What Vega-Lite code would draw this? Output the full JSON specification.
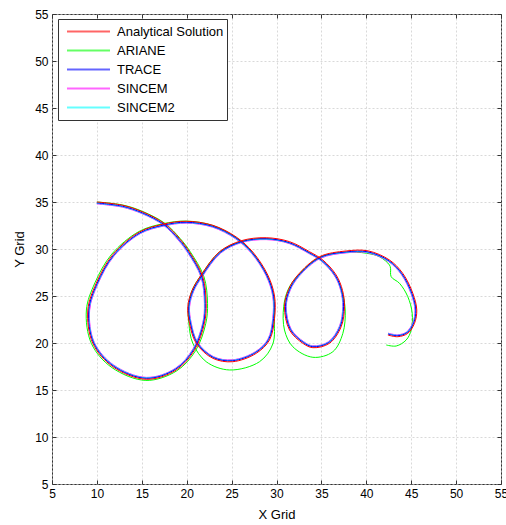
{
"$schema":"https://vega.github.io/schema/vega-lite/v6.json",
"width":449,"height":470,"autosize":"none",
"padding":{"left":52,"top":14,"right":5,"bottom":41},
"background":"white",
"config":{
 "view":{"stroke":"#333333","strokeWidth":1},
 "axis":{"domain":false,"grid":true,"gridColor":"#c8c8c8","gridDash":[2,2],"gridWidth":0.7,"tickColor":"#333333","tickSize":-4,"labelPadding":8,"labelFont":"Liberation Sans","labelFontSize":12,"labelColor":"#000000","titleFont":"Liberation Sans","titleFontSize":13,"titleFontWeight":"normal","titleColor":"#000000","labelFlush":false,"labelOverlap":false,"values":[5,10,15,20,25,30,35,40,45,50,55]},
 "legend":{"labelFont":"Liberation Sans","labelFontSize":13,"labelColor":"#000000"}
},
"datasets":{"d":[
{"s":"ARIANE","i":0,"x":10.0,"y":35.0},{"s":"ARIANE","i":1,"x":12.88,"y":34.68},{"s":"ARIANE","i":2,"x":15.13,"y":33.98},{"s":"ARIANE","i":3,"x":17.57,"y":32.73},{"s":"ARIANE","i":4,"x":19.26,"y":31.13},{"s":"ARIANE","i":5,"x":20.4,"y":29.7},{"s":"ARIANE","i":6,"x":21.92,"y":27.05},{"s":"ARIANE","i":7,"x":22.32,"y":24.22},{"s":"ARIANE","i":8,"x":22.13,"y":22.1},{"s":"ARIANE","i":9,"x":21.0,"y":19.2},{"s":"ARIANE","i":10,"x":18.88,"y":17.03},{"s":"ARIANE","i":11,"x":15.45,"y":16.02},{"s":"ARIANE","i":12,"x":11.68,"y":17.38},{"s":"ARIANE","i":13,"x":9.4,"y":19.92},{"s":"ARIANE","i":14,"x":8.83,"y":23.51},{"s":"ARIANE","i":15,"x":9.78,"y":26.4},{"s":"ARIANE","i":16,"x":11.65,"y":29.45},{"s":"ARIANE","i":17,"x":14.68,"y":31.86},{"s":"ARIANE","i":18,"x":17.32,"y":32.68},{"s":"ARIANE","i":19,"x":19.94,"y":32.97},{"s":"ARIANE","i":20,"x":22.91,"y":32.5},{"s":"ARIANE","i":21,"x":25.48,"y":31.22},{"s":"ARIANE","i":22,"x":27.3,"y":29.6},{"s":"ARIANE","i":23,"x":28.95,"y":27.15},{"s":"ARIANE","i":24,"x":29.68,"y":25.0},{"s":"ARIANE","i":25,"x":29.75,"y":22.6},{"s":"ARIANE","i":26,"x":29.59,"y":19.9},{"s":"ARIANE","i":27,"x":28.11,"y":18.01},{"s":"ARIANE","i":28,"x":24.77,"y":17.13},{"s":"ARIANE","i":29,"x":22.17,"y":18.01},{"s":"ARIANE","i":30,"x":20.68,"y":19.97},{"s":"ARIANE","i":31,"x":20.24,"y":22.1},{"s":"ARIANE","i":32,"x":20.2,"y":23.86},{"s":"ARIANE","i":33,"x":20.6,"y":25.6},{"s":"ARIANE","i":34,"x":21.61,"y":27.23},{"s":"ARIANE","i":35,"x":23.65,"y":29.68},{"s":"ARIANE","i":36,"x":26.07,"y":30.8},{"s":"ARIANE","i":37,"x":28.85,"y":31.08},{"s":"ARIANE","i":38,"x":31.45,"y":30.62},{"s":"ARIANE","i":39,"x":33.6,"y":29.6},{"s":"ARIANE","i":40,"x":35.05,"y":28.72},{"s":"ARIANE","i":41,"x":36.5,"y":27.15},{"s":"ARIANE","i":42,"x":37.25,"y":25.6},{"s":"ARIANE","i":43,"x":37.65,"y":23.51},{"s":"ARIANE","i":44,"x":37.39,"y":21.03},{"s":"ARIANE","i":45,"x":36.27,"y":19.07},{"s":"ARIANE","i":46,"x":34.05,"y":18.48},{"s":"ARIANE","i":47,"x":31.82,"y":19.6},{"s":"ARIANE","i":48,"x":30.89,"y":21.38},{"s":"ARIANE","i":49,"x":30.8,"y":23.86},{"s":"ARIANE","i":50,"x":31.3,"y":25.7},{"s":"ARIANE","i":51,"x":32.35,"y":27.15},{"s":"ARIANE","i":52,"x":34.75,"y":29.1},{"s":"ARIANE","i":53,"x":37.76,"y":29.66},{"s":"ARIANE","i":54,"x":40.0,"y":29.55},{"s":"ARIANE","i":55,"x":41.47,"y":29.18},{"s":"ARIANE","i":56,"x":42.58,"y":28.3},{"s":"ARIANE","i":57,"x":42.7,"y":27.95},{"s":"ARIANE","i":58,"x":42.77,"y":27.05},{"s":"ARIANE","i":59,"x":43.7,"y":26.35},{"s":"ARIANE","i":60,"x":44.62,"y":24.93},{"s":"ARIANE","i":61,"x":45.11,"y":23.16},{"s":"ARIANE","i":62,"x":45.0,"y":21.38},{"s":"ARIANE","i":63,"x":44.44,"y":20.32},{"s":"ARIANE","i":64,"x":43.33,"y":19.68},{"s":"ARIANE","i":65,"x":42.22,"y":19.79},
{"s":"SINCEM","i":0,"x":9.98,"y":34.8},{"s":"SINCEM","i":1,"x":12.84,"y":34.45},{"s":"SINCEM","i":2,"x":15.03,"y":33.76},{"s":"SINCEM","i":3,"x":17.42,"y":32.53},{"s":"SINCEM","i":4,"x":19.05,"y":30.96},{"s":"SINCEM","i":5,"x":20.14,"y":29.57},{"s":"SINCEM","i":6,"x":21.6,"y":26.99},{"s":"SINCEM","i":7,"x":21.97,"y":24.21},{"s":"SINCEM","i":8,"x":21.79,"y":22.15},{"s":"SINCEM","i":9,"x":20.7,"y":19.37},{"s":"SINCEM","i":10,"x":18.73,"y":17.3},{"s":"SINCEM","i":11,"x":15.5,"y":16.34},{"s":"SINCEM","i":12,"x":11.88,"y":17.65},{"s":"SINCEM","i":13,"x":9.72,"y":20.05},{"s":"SINCEM","i":14,"x":9.19,"y":23.5},{"s":"SINCEM","i":15,"x":10.1,"y":26.26},{"s":"SINCEM","i":16,"x":11.92,"y":29.27},{"s":"SINCEM","i":17,"x":14.84,"y":31.64},{"s":"SINCEM","i":18,"x":17.38,"y":32.43},{"s":"SINCEM","i":19,"x":19.94,"y":32.75},{"s":"SINCEM","i":20,"x":22.85,"y":32.33},{"s":"SINCEM","i":21,"x":25.4,"y":31.11},{"s":"SINCEM","i":22,"x":27.21,"y":29.55},{"s":"SINCEM","i":23,"x":28.85,"y":27.14},{"s":"SINCEM","i":24,"x":29.58,"y":24.97},{"s":"SINCEM","i":25,"x":29.58,"y":22.62},{"s":"SINCEM","i":26,"x":29.05,"y":20.42},{"s":"SINCEM","i":27,"x":27.64,"y":19.07},{"s":"SINCEM","i":28,"x":25.11,"y":18.21},{"s":"SINCEM","i":29,"x":22.98,"y":18.55},{"s":"SINCEM","i":30,"x":21.22,"y":20.08},{"s":"SINCEM","i":31,"x":20.5,"y":22.15},{"s":"SINCEM","i":32,"x":20.32,"y":23.84},{"s":"SINCEM","i":33,"x":20.78,"y":25.52},{"s":"SINCEM","i":34,"x":21.77,"y":27.11},{"s":"SINCEM","i":35,"x":23.78,"y":29.56},{"s":"SINCEM","i":36,"x":26.13,"y":30.69},{"s":"SINCEM","i":37,"x":28.85,"y":31.0},{"s":"SINCEM","i":38,"x":31.39,"y":30.59},{"s":"SINCEM","i":39,"x":33.59,"y":29.53},{"s":"SINCEM","i":40,"x":35.03,"y":28.68},{"s":"SINCEM","i":41,"x":36.48,"y":27.12},{"s":"SINCEM","i":42,"x":37.16,"y":25.55},{"s":"SINCEM","i":43,"x":37.37,"y":23.87},{"s":"SINCEM","i":44,"x":37.02,"y":21.81},{"s":"SINCEM","i":45,"x":35.78,"y":20.13},{"s":"SINCEM","i":46,"x":34.05,"y":19.7},{"s":"SINCEM","i":47,"x":33.05,"y":20.13},{"s":"SINCEM","i":48,"x":31.63,"y":21.47},{"s":"SINCEM","i":49,"x":31.09,"y":23.86},{"s":"SINCEM","i":50,"x":31.53,"y":25.62},{"s":"SINCEM","i":51,"x":32.51,"y":27.09},{"s":"SINCEM","i":52,"x":34.88,"y":29.0},{"s":"SINCEM","i":53,"x":37.78,"y":29.59},{"s":"SINCEM","i":54,"x":40.16,"y":29.6},{"s":"SINCEM","i":55,"x":42.47,"y":28.66},{"s":"SINCEM","i":56,"x":43.9,"y":27.29},{"s":"SINCEM","i":57,"x":44.99,"y":25.22},{"s":"SINCEM","i":58,"x":45.42,"y":23.5},{"s":"SINCEM","i":59,"x":45.18,"y":22.17},{"s":"SINCEM","i":60,"x":44.5,"y":21.19},{"s":"SINCEM","i":61,"x":43.49,"y":20.87},{"s":"SINCEM","i":62,"x":42.43,"y":21.05},
{"s":"SINCEM2","i":0,"x":9.99,"y":34.85},{"s":"SINCEM2","i":1,"x":12.85,"y":34.5},{"s":"SINCEM2","i":2,"x":15.05,"y":33.8},{"s":"SINCEM2","i":3,"x":17.44,"y":32.57},{"s":"SINCEM2","i":4,"x":19.09,"y":31.0},{"s":"SINCEM2","i":5,"x":20.18,"y":29.6},{"s":"SINCEM2","i":6,"x":21.65,"y":27.0},{"s":"SINCEM2","i":7,"x":22.02,"y":24.21},{"s":"SINCEM2","i":8,"x":21.83,"y":22.14},{"s":"SINCEM2","i":9,"x":20.74,"y":19.34},{"s":"SINCEM2","i":10,"x":18.76,"y":17.26},{"s":"SINCEM2","i":11,"x":15.5,"y":16.29},{"s":"SINCEM2","i":12,"x":11.85,"y":17.61},{"s":"SINCEM2","i":13,"x":9.68,"y":20.03},{"s":"SINCEM2","i":14,"x":9.14,"y":23.5},{"s":"SINCEM2","i":15,"x":10.06,"y":26.29},{"s":"SINCEM2","i":16,"x":11.88,"y":29.3},{"s":"SINCEM2","i":17,"x":14.82,"y":31.68},{"s":"SINCEM2","i":18,"x":17.37,"y":32.48},{"s":"SINCEM2","i":19,"x":19.94,"y":32.8},{"s":"SINCEM2","i":20,"x":22.87,"y":32.38},{"s":"SINCEM2","i":21,"x":25.43,"y":31.15},{"s":"SINCEM2","i":22,"x":27.25,"y":29.58},{"s":"SINCEM2","i":23,"x":28.9,"y":27.16},{"s":"SINCEM2","i":24,"x":29.63,"y":24.98},{"s":"SINCEM2","i":25,"x":29.63,"y":22.62},{"s":"SINCEM2","i":26,"x":29.09,"y":20.39},{"s":"SINCEM2","i":27,"x":27.67,"y":19.03},{"s":"SINCEM2","i":28,"x":25.11,"y":18.16},{"s":"SINCEM2","i":29,"x":22.97,"y":18.5},{"s":"SINCEM2","i":30,"x":21.18,"y":20.06},{"s":"SINCEM2","i":31,"x":20.46,"y":22.14},{"s":"SINCEM2","i":32,"x":20.27,"y":23.85},{"s":"SINCEM2","i":33,"x":20.74,"y":25.54},{"s":"SINCEM2","i":34,"x":21.73,"y":27.14},{"s":"SINCEM2","i":35,"x":23.74,"y":29.59},{"s":"SINCEM2","i":36,"x":26.11,"y":30.74},{"s":"SINCEM2","i":37,"x":28.85,"y":31.05},{"s":"SINCEM2","i":38,"x":31.41,"y":30.64},{"s":"SINCEM2","i":39,"x":33.61,"y":29.58},{"s":"SINCEM2","i":40,"x":35.06,"y":28.71},{"s":"SINCEM2","i":41,"x":36.53,"y":27.15},{"s":"SINCEM2","i":42,"x":37.2,"y":25.56},{"s":"SINCEM2","i":43,"x":37.42,"y":23.87},{"s":"SINCEM2","i":44,"x":37.06,"y":21.79},{"s":"SINCEM2","i":45,"x":35.81,"y":20.09},{"s":"SINCEM2","i":46,"x":34.05,"y":19.65},{"s":"SINCEM2","i":47,"x":33.02,"y":20.09},{"s":"SINCEM2","i":48,"x":31.58,"y":21.45},{"s":"SINCEM2","i":49,"x":31.04,"y":23.86},{"s":"SINCEM2","i":50,"x":31.49,"y":25.64},{"s":"SINCEM2","i":51,"x":32.48,"y":27.13},{"s":"SINCEM2","i":52,"x":34.85,"y":29.05},{"s":"SINCEM2","i":53,"x":37.78,"y":29.64},{"s":"SINCEM2","i":54,"x":40.17,"y":29.65},{"s":"SINCEM2","i":55,"x":42.5,"y":28.7},{"s":"SINCEM2","i":56,"x":43.94,"y":27.32},{"s":"SINCEM2","i":57,"x":45.04,"y":25.23},{"s":"SINCEM2","i":58,"x":45.47,"y":23.5},{"s":"SINCEM2","i":59,"x":45.23,"y":22.16},{"s":"SINCEM2","i":60,"x":44.53,"y":21.15},{"s":"SINCEM2","i":61,"x":43.5,"y":20.82},{"s":"SINCEM2","i":62,"x":42.42,"y":21.0},
{"s":"TRACE","i":0,"x":9.99,"y":34.9},{"s":"TRACE","i":1,"x":12.86,"y":34.55},{"s":"TRACE","i":2,"x":15.07,"y":33.85},{"s":"TRACE","i":3,"x":17.47,"y":32.61},{"s":"TRACE","i":4,"x":19.13,"y":31.03},{"s":"TRACE","i":5,"x":20.23,"y":29.63},{"s":"TRACE","i":6,"x":21.7,"y":27.02},{"s":"TRACE","i":7,"x":22.07,"y":24.22},{"s":"TRACE","i":8,"x":21.88,"y":22.13},{"s":"TRACE","i":9,"x":20.79,"y":19.31},{"s":"TRACE","i":10,"x":18.78,"y":17.22},{"s":"TRACE","i":11,"x":15.5,"y":16.24},{"s":"TRACE","i":12,"x":11.82,"y":17.56},{"s":"TRACE","i":13,"x":9.63,"y":20.01},{"s":"TRACE","i":14,"x":9.09,"y":23.5},{"s":"TRACE","i":15,"x":10.01,"y":26.31},{"s":"TRACE","i":16,"x":11.85,"y":29.33},{"s":"TRACE","i":17,"x":14.79,"y":31.72},{"s":"TRACE","i":18,"x":17.36,"y":32.53},{"s":"TRACE","i":19,"x":19.94,"y":32.85},{"s":"TRACE","i":20,"x":22.88,"y":32.42},{"s":"TRACE","i":21,"x":25.46,"y":31.2},{"s":"TRACE","i":22,"x":27.29,"y":29.61},{"s":"TRACE","i":23,"x":28.94,"y":27.18},{"s":"TRACE","i":24,"x":29.68,"y":24.98},{"s":"TRACE","i":25,"x":29.68,"y":22.61},{"s":"TRACE","i":26,"x":29.13,"y":20.37},{"s":"TRACE","i":27,"x":27.69,"y":18.99},{"s":"TRACE","i":28,"x":25.12,"y":18.11},{"s":"TRACE","i":29,"x":22.95,"y":18.46},{"s":"TRACE","i":30,"x":21.14,"y":20.03},{"s":"TRACE","i":31,"x":20.41,"y":22.12},{"s":"TRACE","i":32,"x":20.22,"y":23.85},{"s":"TRACE","i":33,"x":20.69,"y":25.56},{"s":"TRACE","i":34,"x":21.69,"y":27.17},{"s":"TRACE","i":35,"x":23.71,"y":29.63},{"s":"TRACE","i":36,"x":26.1,"y":30.78},{"s":"TRACE","i":37,"x":28.85,"y":31.1},{"s":"TRACE","i":38,"x":31.42,"y":30.68},{"s":"TRACE","i":39,"x":33.63,"y":29.62},{"s":"TRACE","i":40,"x":35.1,"y":28.75},{"s":"TRACE","i":41,"x":36.57,"y":27.17},{"s":"TRACE","i":42,"x":37.25,"y":25.57},{"s":"TRACE","i":43,"x":37.47,"y":23.86},{"s":"TRACE","i":44,"x":37.11,"y":21.77},{"s":"TRACE","i":45,"x":35.84,"y":20.05},{"s":"TRACE","i":46,"x":34.05,"y":19.6},{"s":"TRACE","i":47,"x":32.99,"y":20.05},{"s":"TRACE","i":48,"x":31.54,"y":21.43},{"s":"TRACE","i":49,"x":30.99,"y":23.86},{"s":"TRACE","i":50,"x":31.44,"y":25.66},{"s":"TRACE","i":51,"x":32.44,"y":27.16},{"s":"TRACE","i":52,"x":34.83,"y":29.09},{"s":"TRACE","i":53,"x":37.77,"y":29.69},{"s":"TRACE","i":54,"x":40.18,"y":29.7},{"s":"TRACE","i":55,"x":42.53,"y":28.75},{"s":"TRACE","i":56,"x":43.98,"y":27.35},{"s":"TRACE","i":57,"x":45.09,"y":25.25},{"s":"TRACE","i":58,"x":45.52,"y":23.5},{"s":"TRACE","i":59,"x":45.28,"y":22.14},{"s":"TRACE","i":60,"x":44.56,"y":21.11},{"s":"TRACE","i":61,"x":43.5,"y":20.77},{"s":"TRACE","i":62,"x":42.42,"y":20.95},
{"s":"Analytical Solution","i":0,"x":10.0,"y":35.0},{"s":"Analytical Solution","i":1,"x":12.88,"y":34.65},{"s":"Analytical Solution","i":2,"x":15.11,"y":33.94},{"s":"Analytical Solution","i":3,"x":17.53,"y":32.69},{"s":"Analytical Solution","i":4,"x":19.2,"y":31.1},{"s":"Analytical Solution","i":5,"x":20.31,"y":29.68},{"s":"Analytical Solution","i":6,"x":21.79,"y":27.05},{"s":"Analytical Solution","i":7,"x":22.17,"y":24.22},{"s":"Analytical Solution","i":8,"x":21.98,"y":22.1},{"s":"Analytical Solution","i":9,"x":20.87,"y":19.26},{"s":"Analytical Solution","i":10,"x":18.83,"y":17.13},{"s":"Analytical Solution","i":11,"x":15.49,"y":16.14},{"s":"Analytical Solution","i":12,"x":11.77,"y":17.48},{"s":"Analytical Solution","i":13,"x":9.54,"y":19.97},{"s":"Analytical Solution","i":14,"x":8.99,"y":23.51},{"s":"Analytical Solution","i":15,"x":9.92,"y":26.35},{"s":"Analytical Solution","i":16,"x":11.77,"y":29.4},{"s":"Analytical Solution","i":17,"x":14.74,"y":31.81},{"s":"Analytical Solution","i":18,"x":17.34,"y":32.63},{"s":"Analytical Solution","i":19,"x":19.94,"y":32.95},{"s":"Analytical Solution","i":20,"x":22.91,"y":32.52},{"s":"Analytical Solution","i":21,"x":25.51,"y":31.28},{"s":"Analytical Solution","i":22,"x":27.36,"y":29.68},{"s":"Analytical Solution","i":23,"x":29.03,"y":27.23},{"s":"Analytical Solution","i":24,"x":29.78,"y":25.0},{"s":"Analytical Solution","i":25,"x":29.78,"y":22.6},{"s":"Analytical Solution","i":26,"x":29.22,"y":20.32},{"s":"Analytical Solution","i":27,"x":27.74,"y":18.9},{"s":"Analytical Solution","i":28,"x":25.13,"y":18.01},{"s":"Analytical Solution","i":29,"x":22.91,"y":18.37},{"s":"Analytical Solution","i":30,"x":21.06,"y":19.97},{"s":"Analytical Solution","i":31,"x":20.31,"y":22.1},{"s":"Analytical Solution","i":32,"x":20.12,"y":23.86},{"s":"Analytical Solution","i":33,"x":20.6,"y":25.6},{"s":"Analytical Solution","i":34,"x":21.61,"y":27.23},{"s":"Analytical Solution","i":35,"x":23.65,"y":29.71},{"s":"Analytical Solution","i":36,"x":26.07,"y":30.88},{"s":"Analytical Solution","i":37,"x":28.85,"y":31.2},{"s":"Analytical Solution","i":38,"x":31.45,"y":30.78},{"s":"Analytical Solution","i":39,"x":33.68,"y":29.71},{"s":"Analytical Solution","i":40,"x":35.16,"y":28.83},{"s":"Analytical Solution","i":41,"x":36.65,"y":27.23},{"s":"Analytical Solution","i":42,"x":37.35,"y":25.6},{"s":"Analytical Solution","i":43,"x":37.57,"y":23.86},{"s":"Analytical Solution","i":44,"x":37.2,"y":21.73},{"s":"Analytical Solution","i":45,"x":35.9,"y":19.97},{"s":"Analytical Solution","i":46,"x":34.05,"y":19.5},{"s":"Analytical Solution","i":47,"x":32.93,"y":19.97},{"s":"Analytical Solution","i":48,"x":31.45,"y":21.38},{"s":"Analytical Solution","i":49,"x":30.89,"y":23.86},{"s":"Analytical Solution","i":50,"x":31.35,"y":25.7},{"s":"Analytical Solution","i":51,"x":32.37,"y":27.23},{"s":"Analytical Solution","i":52,"x":34.79,"y":29.18},{"s":"Analytical Solution","i":53,"x":37.76,"y":29.79},{"s":"Analytical Solution","i":54,"x":40.2,"y":29.8},{"s":"Analytical Solution","i":55,"x":42.58,"y":28.83},{"s":"Analytical Solution","i":56,"x":44.06,"y":27.41},{"s":"Analytical Solution","i":57,"x":45.18,"y":25.29},{"s":"Analytical Solution","i":58,"x":45.62,"y":23.51},{"s":"Analytical Solution","i":59,"x":45.37,"y":22.1},{"s":"Analytical Solution","i":60,"x":44.62,"y":21.03},{"s":"Analytical Solution","i":61,"x":43.51,"y":20.67},{"s":"Analytical Solution","i":62,"x":42.4,"y":20.85}
]},
"data":{"name":"d"},
"layer":[
 {"mark":{"type":"line","interpolate":"catmull-rom","strokeWidth":1,"clip":true},
  "encoding":{
   "x":{"field":"x","type":"quantitative","scale":{"domain":[5,55],"nice":false,"zero":false},"axis":{"title":"X Grid","titlePadding":9}},
   "y":{"field":"y","type":"quantitative","scale":{"domain":[5,55],"nice":false,"zero":false},"axis":{"title":"Y Grid","titlePadding":8}},
   "color":{"field":"s","type":"nominal","scale":{"domain":["Analytical Solution","ARIANE","TRACE","SINCEM","SINCEM2"],"range":["#ff0000","#00ff00","#0000ff","#ff00ff","#00ffff"]},
    "legend":{"title":null,"orient":"none","legendX":6,"legendY":5,"symbolType":"stroke","symbolSize":1849,"symbolStrokeWidth":2,"symbolOpacity":0.6,"clipHeight":19,"rowPadding":0,"padding":3,"symbolOffset":5,"labelOffset":6,"strokeColor":"#333333","fillColor":"white"}},
   "order":{"field":"i","type":"quantitative"}
  }},
 {"mark":{"type":"point","opacity":0},
  "encoding":{
   "x":{"field":"x","type":"quantitative","axis":{"orient":"top","labels":false,"grid":false,"title":null}},
   "y":{"field":"y","type":"quantitative","axis":{"orient":"right","labels":false,"grid":false,"title":null}}
  }}
],
"resolve":{"axis":{"x":"independent","y":"independent"}}
}
